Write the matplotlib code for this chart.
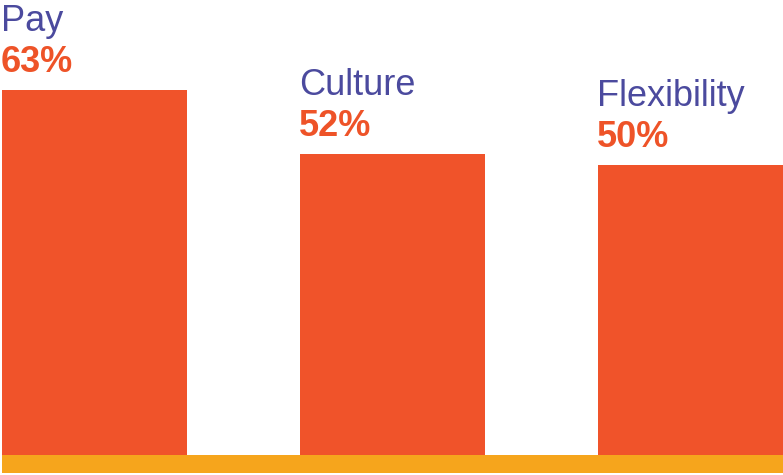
import matplotlib
matplotlib.use("Agg")
import matplotlib.pyplot as plt

categories = ["Pay", "Culture", "Flexibility"]
values = [63, 52, 50]
value_labels = ["63%", "52%", "50%"]

plt.rcParams['font.family'] = ['Liberation Sans', 'DejaVu Sans']

fig = plt.figure(figsize=(7.83, 4.75), dpi=100)
ax = fig.add_axes([0, 0, 1, 1])
ax.set_axis_off()

W = 783.0
step = 298.0
width = 185.0 / step
xs = list(range(len(categories)))
ax.set_xlim(-94.5 / step, 2 + (W - 690.5) / step)
ppu = 365.0 / 63.0
ax.set_ylim(-20.0 / ppu, 455.0 / ppu)

bar_color = "#F0532A"
ax.bar(xs, values, width=width, color=bar_color, zorder=2)
ax.axhspan(-18.0 / ppu, 0, xmin=2.0 / W, xmax=1.0, color="#F6A51C", zorder=1, lw=0)

for x, v, cat, lab in zip(xs, values, categories, value_labels):
    left = x - width / 2
    ax.annotate(lab, (left, v), xytext=(-1, 18), textcoords="offset pixels",
                ha="left", va="baseline", fontsize=26, fontweight="bold",
                color="#EE5328")
    ax.annotate(cat, (left, v), xytext=(-1, 59), textcoords="offset pixels",
                ha="left", va="baseline", fontsize=26, color="#4B4A9E")

fig.savefig("out.png", dpi=100)
